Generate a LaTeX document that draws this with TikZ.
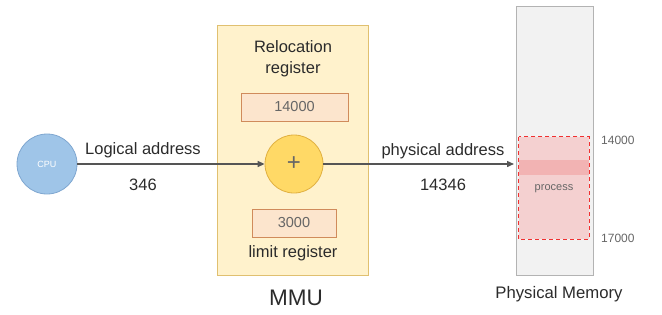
\documentclass[tikz,border=0pt]{standalone}
\usepackage{fontspec}
\setmainfont{Liberation Sans}
\usetikzlibrary{arrows.meta}
\definecolor{cpufill}{HTML}{9FC5E8}
\definecolor{cpuline}{HTML}{7EA6D0}
\definecolor{mmufill}{HTML}{FFF2CC}
\definecolor{mmuline}{HTML}{E0C070}
\definecolor{regfill}{HTML}{FCE5CD}
\definecolor{regline}{HTML}{D08B5B}
\definecolor{addfill}{HTML}{FFD966}
\definecolor{addline}{HTML}{E0B040}
\definecolor{memfill}{HTML}{F2F2F2}
\definecolor{memline}{HTML}{B3B3B3}
\definecolor{procfill}{HTML}{F4D0D0}
\definecolor{procband}{HTML}{F2B3B3}
\definecolor{procline}{HTML}{F03030}
\definecolor{txt}{HTML}{2B2B2B}
\definecolor{soft}{HTML}{666666}
\definecolor{wire}{HTML}{555555}
\tikzset{
  lbl/.style={text=txt, font=\fontsize{16.5}{18}\selectfont, inner sep=0pt},
  reg/.style={draw=regline, fill=regfill, line width=0.8pt, text=soft,
    font=\fontsize{14.5}{16}\selectfont},
  wirearrow/.style={draw=wire, line width=1.4pt, -{Triangle[length=7pt,width=6pt]}},
}
\begin{document}
\begin{tikzpicture}[x=1pt,y=-1pt]
  \useasboundingbox (0,0) rectangle (662,314);

  % CPU
  \node[circle, draw=cpuline, fill=cpufill, line width=0.8pt, minimum size=60pt,
        inner sep=0pt, text=white, font=\fontsize{9}{10}\selectfont] (cpu) at (47,164) {CPU};

  % MMU block
  \node[draw=mmuline, fill=mmufill, line width=0.8pt, minimum width=151pt,
        minimum height=250pt, inner sep=0pt] (mmu) at (292.5,150) {};
  \node[lbl, align=center, font=\fontsize{16.5}{21}\selectfont] (rellbl) at (293,59) {Relocation\\register};
  \node[reg, minimum width=107pt, minimum height=28pt, inner sep=0pt] (reloc) at (294.5,107) {14000};
  \node[circle, draw=addline, fill=addfill, line width=0.8pt, minimum size=58pt,
        inner sep=0pt, text=soft, font=\fontsize{24}{26}\selectfont] (add) at (294,164) {+};
  \node[reg, minimum width=84pt, minimum height=28pt, inner sep=0pt] (limit) at (294,223) {3000};
  \node[lbl] (limlbl) at (293,253) {limit register};
  \node[lbl, font=\fontsize{22.5}{24}\selectfont] (mmulbl) at (296,298) {MMU};

  % Physical memory
  \node[draw=memline, fill=memfill, line width=0.8pt, minimum width=77pt,
        minimum height=269pt, inner sep=0pt] (mem) at (554.5,140.5) {};
  \node[fill=procfill, minimum width=70pt, minimum height=102pt, inner sep=0pt] (proc) at (554,188) {};
  \fill[procband] (proc.north west |- 0,160) rectangle (proc.east |- 0,175);
  \draw[procline, line width=1pt, dash pattern=on 4pt off 3pt]
    (proc.north west) rectangle (proc.south east);
  \node[text=soft, font=\fontsize{11}{12}\selectfont] (proclbl) at (554,189) {process};
  \node[text=soft, font=\fontsize{12}{14}\selectfont, anchor=west, inner sep=0pt] (lo) at (601,140) {14000};
  \node[text=soft, font=\fontsize{12}{14}\selectfont, anchor=west, inner sep=0pt] (hi) at (601,238) {17000};
  \node[lbl, font=\fontsize{16.7}{18}\selectfont] (memlbl) at (559,294) {Physical Memory};

  % Address flow
  \coordinate (memin) at (514,164);
  \draw[wirearrow] (cpu.east) -- (add.west);
  \draw[wirearrow] (add.east) -- (memin);
  \node[lbl] (logaddr) at (143,150) {Logical address};
  \node[lbl] (logval) at (143,185) {346};
  \node[lbl] (phyaddr) at (443,151) {physical address};
  \node[lbl] (phyval) at (443,185) {14346};
\end{tikzpicture}
\end{document}
